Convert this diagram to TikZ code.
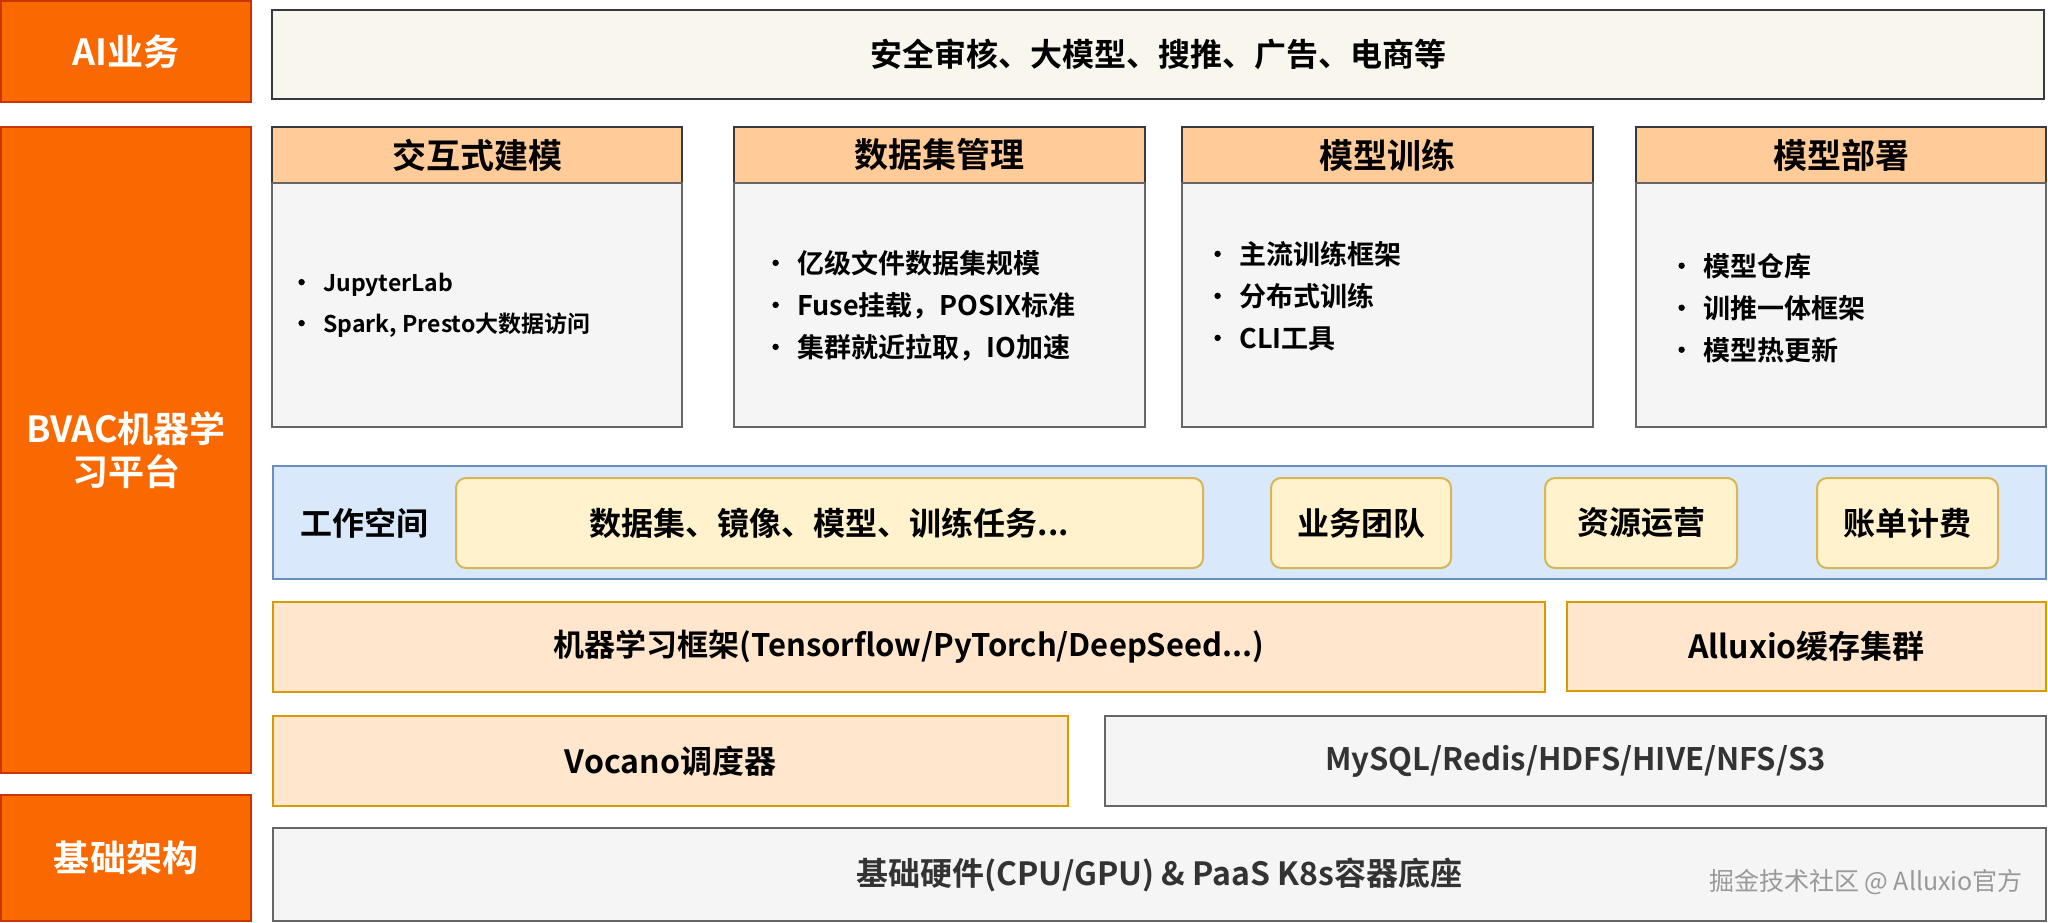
\documentclass[tikz,border=0pt]{standalone}
\usepackage{fontspec}
\setmainfont{Noto Sans CJK SC}[BoldFont=* Bold]
\usetikzlibrary{fit}
\definecolor{orangeF}{HTML}{FA6800}
\definecolor{orangeD}{HTML}{C73500}
\definecolor{topF}{HTML}{F9F7ED}
\definecolor{darkD}{HTML}{36393D}
\definecolor{hdrF}{HTML}{FFCC99}
\definecolor{grayF}{HTML}{F5F5F5}
\definecolor{grayD}{HTML}{666666}
\definecolor{blueF}{HTML}{DAE8FC}
\definecolor{blueD}{HTML}{6C8EBF}
\definecolor{yelF}{HTML}{FFF2CC}
\definecolor{yelD}{HTML}{D6B656}
\definecolor{peachF}{HTML}{FFE6CC}
\definecolor{peachD}{HTML}{D79B00}
\definecolor{txtG}{HTML}{333333}
\newcommand\bx[5]{\node[#1, fit={#3 #4}] (#2) {};
  \node[#1, draw=none, fill=none, inner sep=0pt] (#2t) at (#2.center) {#5};}
\newcommand\bul{\makebox[12.5pt][l]{\raisebox{0.28em}{\tikz\fill (0,0) circle (1.6pt);}}}
\begin{document}
\begin{tikzpicture}[x=0.5pt,y=-0.5pt,
  base/.style={inner sep=0pt, outer sep=0pt, line width=1pt, font=\bfseries\fontsize{16}{19}\selectfont},
  side/.style={base, fill=orangeF, draw=orangeD, text=white, align=center, font=\bfseries\fontsize{18}{21.5}\selectfont},
  topbar/.style={base, fill=topF, draw=darkD},
  hdr/.style={base, fill=hdrF, draw=darkD, font=\bfseries\fontsize{17}{20}\selectfont},
  body/.style={base, fill=grayF, draw=grayD},
  wsp/.style={base, fill=blueF, draw=blueD},
  item/.style={base, fill=yelF, draw=yelD, rounded corners=5pt},
  peach/.style={base, fill=peachF, draw=peachD},
  grayb/.style={base, fill=grayF, draw=grayD, text=txtG},
  blist/.style={anchor=north west, align=left, inner sep=0pt, font=\bfseries\fontsize{13.5}{21}\selectfont},
  blistS/.style={anchor=north west, align=left, inner sep=0pt, font=\bfseries\fontsize{11.5}{20.5}\selectfont},
]
\useasboundingbox (0,0) rectangle (2048,922);
% side labels
\bx{side}{ai}{(1,1)}{(251,102)}{AI业务}
\bx{side}{bvac}{(1,127)}{(251,773)}{BVAC机器学\\习平台}
\bx{side}{infra}{(1,795)}{(251,921)}{基础架构}
% top bar
\bx{topbar}{biz}{(272,10)}{(2044,99)}{安全审核、大模型、搜推、广告、电商等}
% columns
\bx{hdr}{h1}{(272,127)}{(682,183)}{交互式建模}
\node[body, fit={(272,183) (682,427)}] (b1) {};
\bx{hdr}{h2}{(734,127)}{(1145,183)}{数据集管理}
\node[body, fit={(734,183) (1145,427)}] (b2) {};
\bx{hdr}{h3}{(1182,127)}{(1593,183)}{模型训练}
\node[body, fit={(1182,183) (1593,427)}] (b3) {};
\bx{hdr}{h4}{(1636,127)}{(2046,183)}{模型部署}
\node[body, fit={(1636,183) (2046,427)}] (b4) {};
\node[blistS] (l1) at (298,273) {\bul JupyterLab\\ \bul Spark, Presto大数据访问};
\node[blist] (l2) at (772,250) {\bul 亿级文件数据集规模\\ \bul Fuse挂载，POSIX标准\\ \bul 集群就近拉取，IO加速};
\node[blist] (l3) at (1214,241) {\bul 主流训练框架\\ \bul 分布式训练\\ \bul CLI工具};
\node[blist] (l4) at (1678,253) {\bul 模型仓库\\ \bul 训推一体框架\\ \bul 模型热更新};
% workspace
\node[wsp, fit={(273,466) (2046,579)}] (ws) {};
\node[font=\bfseries\fontsize{16}{19}\selectfont, inner sep=0pt] (wst) at (364,523) {工作空间};
\bx{item}{w1}{(456,478)}{(1203,568)}{数据集、镜像、模型、训练任务...}
\bx{item}{w2}{(1271,478)}{(1451,568)}{业务团队}
\bx{item}{w3}{(1545,478)}{(1737,568)}{资源运营}
\bx{item}{w4}{(1817,478)}{(1998,568)}{账单计费}
% frameworks
\bx{peach}{ml}{(273,602)}{(1545,692)}{\fontsize{15.5}{18}\selectfont 机器学习框架(Tensorflow/PyTorch/DeepSeed...)}
\bx{peach}{alx}{(1567,602)}{(2046,691)}{Alluxio缓存集群}
\bx{peach}{voc}{(273,716)}{(1068,806)}{Vocano调度器}
\bx{grayb}{db}{(1105,716)}{(2046,806)}{\fontsize{15.5}{18}\selectfont MySQL/Redis/HDFS/HIVE/NFS/S3}
\bx{grayb}{hw}{(273,828)}{(2046,921)}{基础硬件(CPU/GPU) \& PaaS K8s容器底座}
\node[text=gray!80, font=\fontsize{12.5}{14}\selectfont, inner sep=0pt] (wm) at (1866,882) {掘金技术社区 @ Alluxio官方};
\end{tikzpicture}
\end{document}
